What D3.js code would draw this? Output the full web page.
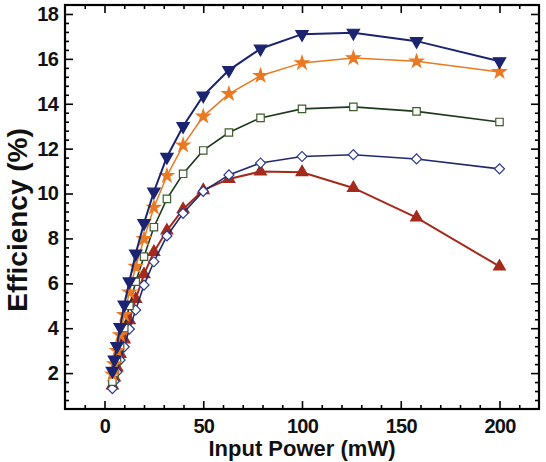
<!DOCTYPE html>
<html>
<head>
<meta charset="utf-8">
<script src="https://cdn.jsdelivr.net/npm/d3@7"></script>
<style>
    body { margin: 0; background: #fff; }
    text { font-family: "Liberation Sans", Arial, Helvetica, sans-serif; font-weight: bold; }
</style>
</head>
<body>
<svg id="chart"></svg>
<script>
// input power (mW), 1 dB steps
const power = [4.0, 5.0, 6.3, 7.9, 10, 12.6, 15.8, 20, 25, 31.6, 39.8, 50, 63, 79, 100, 126, 158, 200];

// efficiency (%) per curve
const effNavyTri = [2.1, 2.6, 3.2, 4.05, 5.05, 6.08, 7.32, 8.68, 10.08, 11.63, 13.0, 14.36, 15.5, 16.45, 17.1, 17.16, 16.79, 15.89];
const effOrangeStar = [1.95, 2.4, 3.0, 3.7, 4.6, 5.6, 6.75, 7.98, 9.38, 10.79, 12.15, 13.44, 14.44, 15.25, 15.82, 16.04, 15.89, 15.42];
const effGreenSquare = [1.62, 2.02, 2.55, 3.2, 4.0, 4.99, 6.07, 7.19, 8.5, 9.76, 10.88, 11.92, 12.72, 13.37, 13.77, 13.86, 13.66, 13.19];
const effNavyDiamond = [1.31, 1.64, 2.05, 2.58, 3.17, 3.96, 4.81, 5.92, 6.96, 8.11, 9.12, 10.1, 10.83, 11.36, 11.65, 11.73, 11.54, 11.1];
const effRedTri = [1.45, 1.8, 2.25, 2.85, 3.5, 4.35, 5.3, 6.4, 7.4, 8.35, 9.3, 10.15, 10.65, 10.98, 10.95, 10.25, 8.93, 6.75];

const xTicks = [0, 50, 100, 150, 200];
const yTicks = [2, 4, 6, 8, 10, 12, 14, 16, 18];

const width = 546, height = 462;
const frame = { left: 65, right: 539, top: 5, bottom: 409 };

const svg = d3.select("#chart")
    .attr("width", width)
    .attr("height", height);

const x = d3.scaleLinear().domain([-20, 220]).range([frame.left, frame.right]);
const y = d3.scaleLinear().domain([0.4, 18.4]).range([frame.bottom, frame.top]);

// minor ticks
const xMinor = d3.range(-10, 220, 10).filter(v => v % 50 !== 0);
const yMinor = d3.range(0.8, 18.4, 0.4).filter(v => Math.abs(v / 2 - Math.round(v / 2)) > 0.01);

function drawAxis(axisFn, scale, pos, major, minor, showLabels, pad) {
    const g = svg.append("g").attr("transform", pos);
    g.call(axisFn(scale).tickValues(major).tickSizeInner(-8).tickSizeOuter(0).tickPadding(pad)
        .tickFormat(showLabels ? d3.format("d") : () => ""));
    g.append("g").call(axisFn(scale).tickValues(minor).tickSizeInner(-4).tickSizeOuter(0).tickFormat(() => ""))
        .select(".domain").remove();
    g.select(".domain").remove();
    g.selectAll(".tick line").attr("stroke", "#000").attr("stroke-width", 1.6);
    g.selectAll(".tick text").attr("fill", "#111").style("font-size", "20px")
        .style("letter-spacing", "-0.8px");
    return g;
}

drawAxis(d3.axisBottom, x, `translate(0,${frame.bottom})`, xTicks, xMinor, true, 10);
drawAxis(d3.axisTop, x, `translate(0,${frame.top})`, xTicks, xMinor, false, 0);
drawAxis(d3.axisLeft, y, `translate(${frame.left},0)`, yTicks, yMinor, true, 7);
drawAxis(d3.axisRight, y, `translate(${frame.right},0)`, yTicks, yMinor, false, 0);

svg.append("rect")
    .attr("x", frame.left).attr("y", frame.top)
    .attr("width", frame.right - frame.left).attr("height", frame.bottom - frame.top)
    .attr("fill", "none").attr("stroke", "#000").attr("stroke-width", 2.2);

// axis titles
svg.append("text")
    .attr("x", (x(0) + x(200)) / 2)
    .attr("y", 456)
    .attr("text-anchor", "middle")
    .style("font-size", "22px")
    .attr("fill", "#111")
    .text("Input Power (mW)");

svg.append("text")
    .attr("transform", "translate(27,220)rotate(-90)")
    .attr("text-anchor", "middle")
    .style("font-size", "28px")
    .attr("fill", "#111")
    .text("Efficiency (%)");

const series = [
    { values: effRedTri, line: "#a42a1c", stroke: "#a42a1c", fill: "#a42a1c", shape: d3.symbolTriangle, size: 60, rot: 0, lw: 2 },
    { values: effNavyDiamond, line: "#1f2a6e", stroke: "#2b3a90", fill: "#fff", shape: d3.symbolSquare, size: 50, rot: 45, lw: 1.6 },
    { values: effGreenSquare, line: "#1d3a1d", stroke: "#3d5e2d", fill: "#fff", shape: d3.symbolSquare, size: 55, rot: 0, lw: 1.6 },
    { values: effOrangeStar, line: "#ea7a22", stroke: "#ea7a22", fill: "#ea7a22", shape: d3.symbolStar, size: 55, rot: 0, lw: 1.5 },
    { values: effNavyTri, line: "#1b2470", stroke: "#1b2470", fill: "#1b2470", shape: d3.symbolTriangle, size: 66, rot: 180, lw: 2 }
];

const line = d3.line()
    .x(d => x(d[0]))
    .y(d => y(d[1]));

series.forEach(s => {
    const pts = power.map((p, i) => [p, s.values[i]]);
    svg.append("path")
        .datum(pts)
        .attr("fill", "none")
        .attr("stroke", s.line)
        .attr("stroke-width", s.lw)
        .attr("d", line);

    svg.append("g").selectAll("path")
        .data(pts)
        .join("path")
        .attr("transform", d => `translate(${x(d[0])},${y(d[1])})rotate(${s.rot})`)
        .attr("d", d3.symbol().type(s.shape).size(s.size))
        .attr("fill", s.fill)
        .attr("stroke", s.stroke)
        .attr("stroke-width", 1.2);
});
</script>
</body>
</html>
